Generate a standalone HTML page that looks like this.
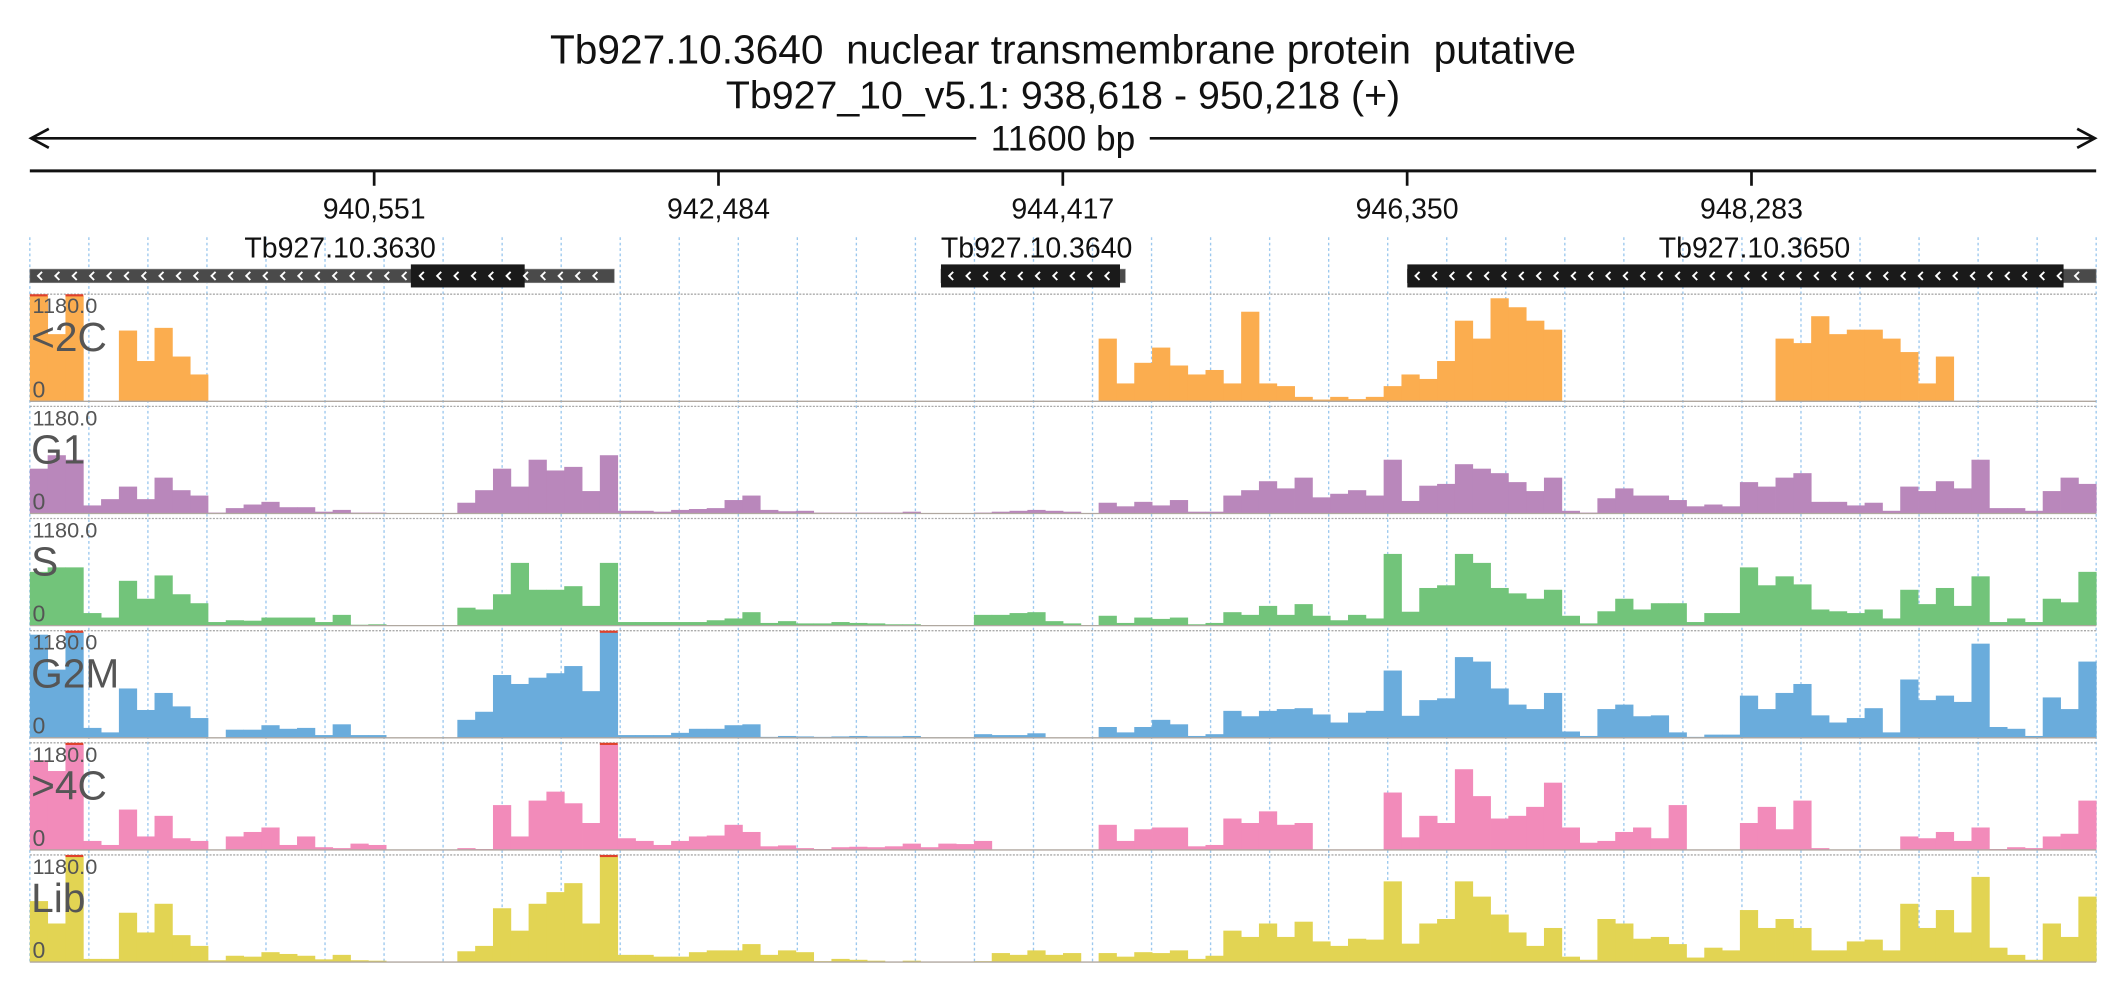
<!DOCTYPE html>
<html><head><meta charset="utf-8">
<style>
html,body{margin:0;padding:0;background:#fff;}
svg{display:block;font-family:"Liberation Sans",sans-serif;}
</style></head>
<body>
<svg id="chart" width="2126" height="1000" viewBox="0 0 1568 737.5" preserveAspectRatio="none" xmlns="http://www.w3.org/2000/svg">
<rect x="0" y="0" width="1568" height="737.5" fill="#fff"/>
<text x="784" y="47" font-size="30" text-anchor="middle" fill="#111" xml:space="preserve" style="white-space:pre">Tb927.10.3640  nuclear transmembrane protein  putative</text>
<text x="784" y="80" font-size="29" text-anchor="middle" fill="#111">Tb927_10_v5.1: 938,618 - 950,218 (+)</text>
<g id="span">
<line x1="23" y1="102" x2="1545" y2="102" stroke="#111" stroke-width="2"/>
<polyline points="36,95 23,102 36,109" fill="none" stroke="#111" stroke-width="2"/>
<polyline points="1532,95 1545,102 1532,109" fill="none" stroke="#111" stroke-width="2"/>
<rect x="720" y="88" width="128" height="26" fill="#fff"/>
<text x="784" y="111" font-size="26" text-anchor="middle" fill="#111">11600 bp</text>
</g>
<g id="axis"></g>
<g id="grid"></g>
<g id="genes"></g>
<g id="tracks"></g>
</svg>
<script>
const START = 938618, END = 950218, BIN = 100;
const tickValues = [940551, 942484, 944417, 946350, 948283];
const tickLabels = ["940,551", "942,484", "944,417", "946,350", "948,283"];
const trackNames = ["<2C", "G1", "S", "G2M", ">4C", "Lib"];
const trackColors = ["#fbad4f", "#b987bb", "#72c47a", "#6aacdc", "#f28bba", "#e2d453"];
const maxValue = 1180;
const geneNames = ["Tb927.10.3630", "Tb927.10.3640", "Tb927.10.3650"];
const geneStarts = [938618, 943733, 946351];
const geneEnds = [941899, 944768, 950218];
const cdsStarts = [940757, 943733, 946351];
const cdsEnds = [941396, 944738, 950035];
const geneLabelPos = [940360, 944270, 948300];
const v2C = [1180,750,1180,0,0,790,450,820,500,300, 0,0,0,0,0,0,0,0,0,0, 0,0,0,0,0,0,0,0,0,0, 0,0,0,0,0,0,0,0,0,0, 0,0,0,0,0,0,0,0,0,0, 0,0,0,0,0,0,0,0,0,0, 700,200,430,600,400,300,350,200,1000,200, 170,50,20,50,25,50,170,300,250,450, 900,700,1150,1050,900,800,0,0,0,0, 0,0,0,0,0,0,0,0,700,650, 950,750,800,800,700,550,200,500,0,0, 0,0,0,0,0,0];
const vG1 = [500,650,600,90,160,300,160,400,260,200, 10,60,100,130,70,70,20,40,10,10, 0,0,0,0,120,260,500,300,600,480, 520,250,650,30,30,20,40,50,60,150, 200,40,25,30,10,10,10,10,10,20, 0,0,0,10,20,30,40,30,20,0, 120,80,130,90,150,20,20,200,260,360, 280,400,180,220,260,200,600,140,310,330, 550,500,450,350,250,400,30,10,170,280, 200,200,150,80,100,80,350,300,400,450, 130,130,90,120,30,300,250,360,280,600, 60,60,30,250,400,330];
const vS = [600,650,650,140,90,500,300,560,350,250, 40,60,55,90,90,90,40,120,10,15, 0,0,0,0,200,180,350,700,400,400, 440,220,700,40,40,40,40,40,60,80, 150,30,50,25,25,40,30,25,15,15, 0,0,0,120,120,140,150,50,25,0, 110,30,90,75,90,15,30,150,120,220, 120,240,110,60,120,80,800,155,420,450, 800,700,420,360,300,400,110,25,160,300, 180,250,250,40,140,140,650,450,550,460, 180,160,140,180,80,400,240,420,220,550, 40,80,40,300,260,600];
const vG2M = [1150,760,1180,110,60,550,310,500,350,220, 0,90,90,140,100,110,30,150,30,30, 0,0,0,0,200,290,700,600,670,720, 800,520,1180,30,30,30,55,100,100,140, 150,10,20,15,10,15,20,15,15,20, 5,5,5,40,30,30,50,0,0,0, 120,60,120,200,150,20,40,300,240,300, 320,330,260,170,280,300,750,245,420,440, 900,850,550,370,320,500,70,20,320,370, 240,250,60,10,35,35,470,320,500,600, 250,170,220,330,60,650,420,470,400,1050, 120,100,20,450,320,850];
const v4C = [1000,880,1180,100,55,450,150,380,130,100, 0,150,200,250,55,150,30,20,70,55, 0,0,0,0,20,10,500,150,550,650, 520,300,1180,130,100,55,100,150,160,280, 200,40,50,20,10,30,35,30,40,70, 30,70,65,100,0,0,0,0,0,0, 280,100,230,250,250,40,55,350,300,430, 280,300,5,5,5,5,640,140,380,300, 900,600,350,380,480,750,250,80,100,200, 250,130,500,0,0,0,300,480,230,550, 20,0,0,0,0,150,130,200,100,250, 10,30,20,150,180,550];
const vLib = [680,430,1180,35,35,550,330,650,300,180, 20,70,60,110,90,70,30,80,20,15, 0,0,0,0,120,180,600,350,650,780, 880,430,1180,80,80,60,60,110,130,130, 200,80,130,110,10,35,25,15,0,15, 3,3,3,10,100,80,130,80,100,0, 100,60,110,100,130,35,70,350,280,430, 280,450,230,180,260,250,900,205,430,480, 900,730,530,330,180,380,60,25,480,430, 260,280,200,50,160,130,580,380,480,380, 130,130,230,250,130,650,380,580,330,950, 160,80,25,430,280,730];
const trackValues = [v2C, vG1, vS, vG2M, v4C, vLib];

const NS = "http://www.w3.org/2000/svg";
const L = 22, R = 1546;
function xScale(bp){ return L + (bp - START) / (END - START) * (R - L); }
const T0 = 217, TSTEP = 82.7, TH = 79;
function yScale(v, k){ const base = T0 + TSTEP*k + TH; return base - Math.min(v, maxValue)/maxValue*(TH-1); }
function mk(tag, attrs, parent){ const e = document.createElementNS(NS, tag); for (const a in attrs) e.setAttribute(a, attrs[a]); parent.appendChild(e); return e; }

// axis
const axis = document.getElementById('axis');
mk('line', {x1:L, y1:126, x2:R, y2:126, stroke:'#111', 'stroke-width':2.2}, axis);
tickValues.forEach((t, i) => {
  const x = xScale(t);
  const tk = mk('line', {x1:x, y1:126, x2:x, y2:137, stroke:'#111', 'stroke-width':2}, axis);
  
  
  const lb = mk('text', {x:x, y:161, 'font-size':21, 'text-anchor':'middle', fill:'#111'}, axis);
  lb.textContent = tickLabels[i];
  
  
});

// grid
const grid = document.getElementById('grid');
const yBottom = T0 + TSTEP*5 + TH;
for (let i = 0; i <= 35; i++) {
  const x = L + i*(R-L)/35;
  const g = mk('line', {x1:x, y1:175, x2:x, y2:yBottom, stroke:'#9cc8ee', 'stroke-width':1, 'stroke-dasharray':'2,2'}, grid);
  
  
}

// genes
const genes = document.getElementById('genes');
function chevrons(x1, x2, parent){
  for (let x = x1 + 6; x < x2 - 3; x += 12.8) {
    mk('polyline', {points:(x+3)+',200.5 '+x+',203.5 '+(x+3)+',206.5', fill:'none', stroke:'#fff', 'stroke-width':1.4}, parent);
  }
}
geneNames.forEach((n, i) => {
  const g = mk('g', {}, genes);
  
  
  const gx1 = xScale(geneStarts[i]), gx2 = xScale(geneEnds[i]);
  const cx1 = xScale(cdsStarts[i]), cx2 = xScale(cdsEnds[i]);
  mk('rect', {x:gx1, y:198.5, width:gx2-gx1, height:10, fill:'#4a4a4a', stroke:'#888', 'stroke-width':0.5}, g);
  mk('rect', {x:cx1, y:195, width:cx2-cx1, height:17, fill:'#1a1a1a'}, g);
  chevrons(gx1, gx2, g);
  const t = mk('text', {x:xScale(geneLabelPos[i]), y:190, 'font-size':21, 'text-anchor':'middle', fill:'#111'}, g);
  t.textContent = n;
  
  
});

// tracks
const tracks = document.getElementById('tracks');
trackValues.forEach((vals, k) => {
  const g = mk('g', {}, tracks);
  
  
  const top = T0 + TSTEP*k, base = top + TH;
  mk('line', {x1:L, y1:top, x2:R, y2:top, stroke:'#aaa', 'stroke-width':1, 'stroke-dasharray':'1.5,1'}, g);
  vals.forEach((v, i) => {
    if (v <= 0) return;
    const x1 = xScale(START + i*BIN), x2 = xScale(Math.min(START + (i+1)*BIN, END));
    const y = yScale(v, k);
    const b = mk('rect', {x:x1, y:y, width:x2-x1+0.3, height:base-y, fill:trackColors[k]}, g);
    
    
    if (v >= maxValue) mk('rect', {x:x1, y:top, width:x2-x1, height:1.6, fill:'#e0402a'}, g);
  });
  mk('line', {x1:L, y1:base, x2:R, y2:base, stroke:'#b0a8a0', 'stroke-width':1}, g);
  const mx = mk('text', {x:L+2, y:top+14, 'font-size':16, fill:'#555'}, g);
  mx.textContent = '1180.0';
  
  
  const nm = mk('text', {x:L+1, y:top+42, 'font-size':30, fill:'#555'}, g);
  nm.textContent = trackNames[k];
  
  
  const z = mk('text', {x:L+2, y:base-3, 'font-size':17, fill:'#555'}, g);
  z.textContent = '0';
  
  
});
</script>
</body></html>
